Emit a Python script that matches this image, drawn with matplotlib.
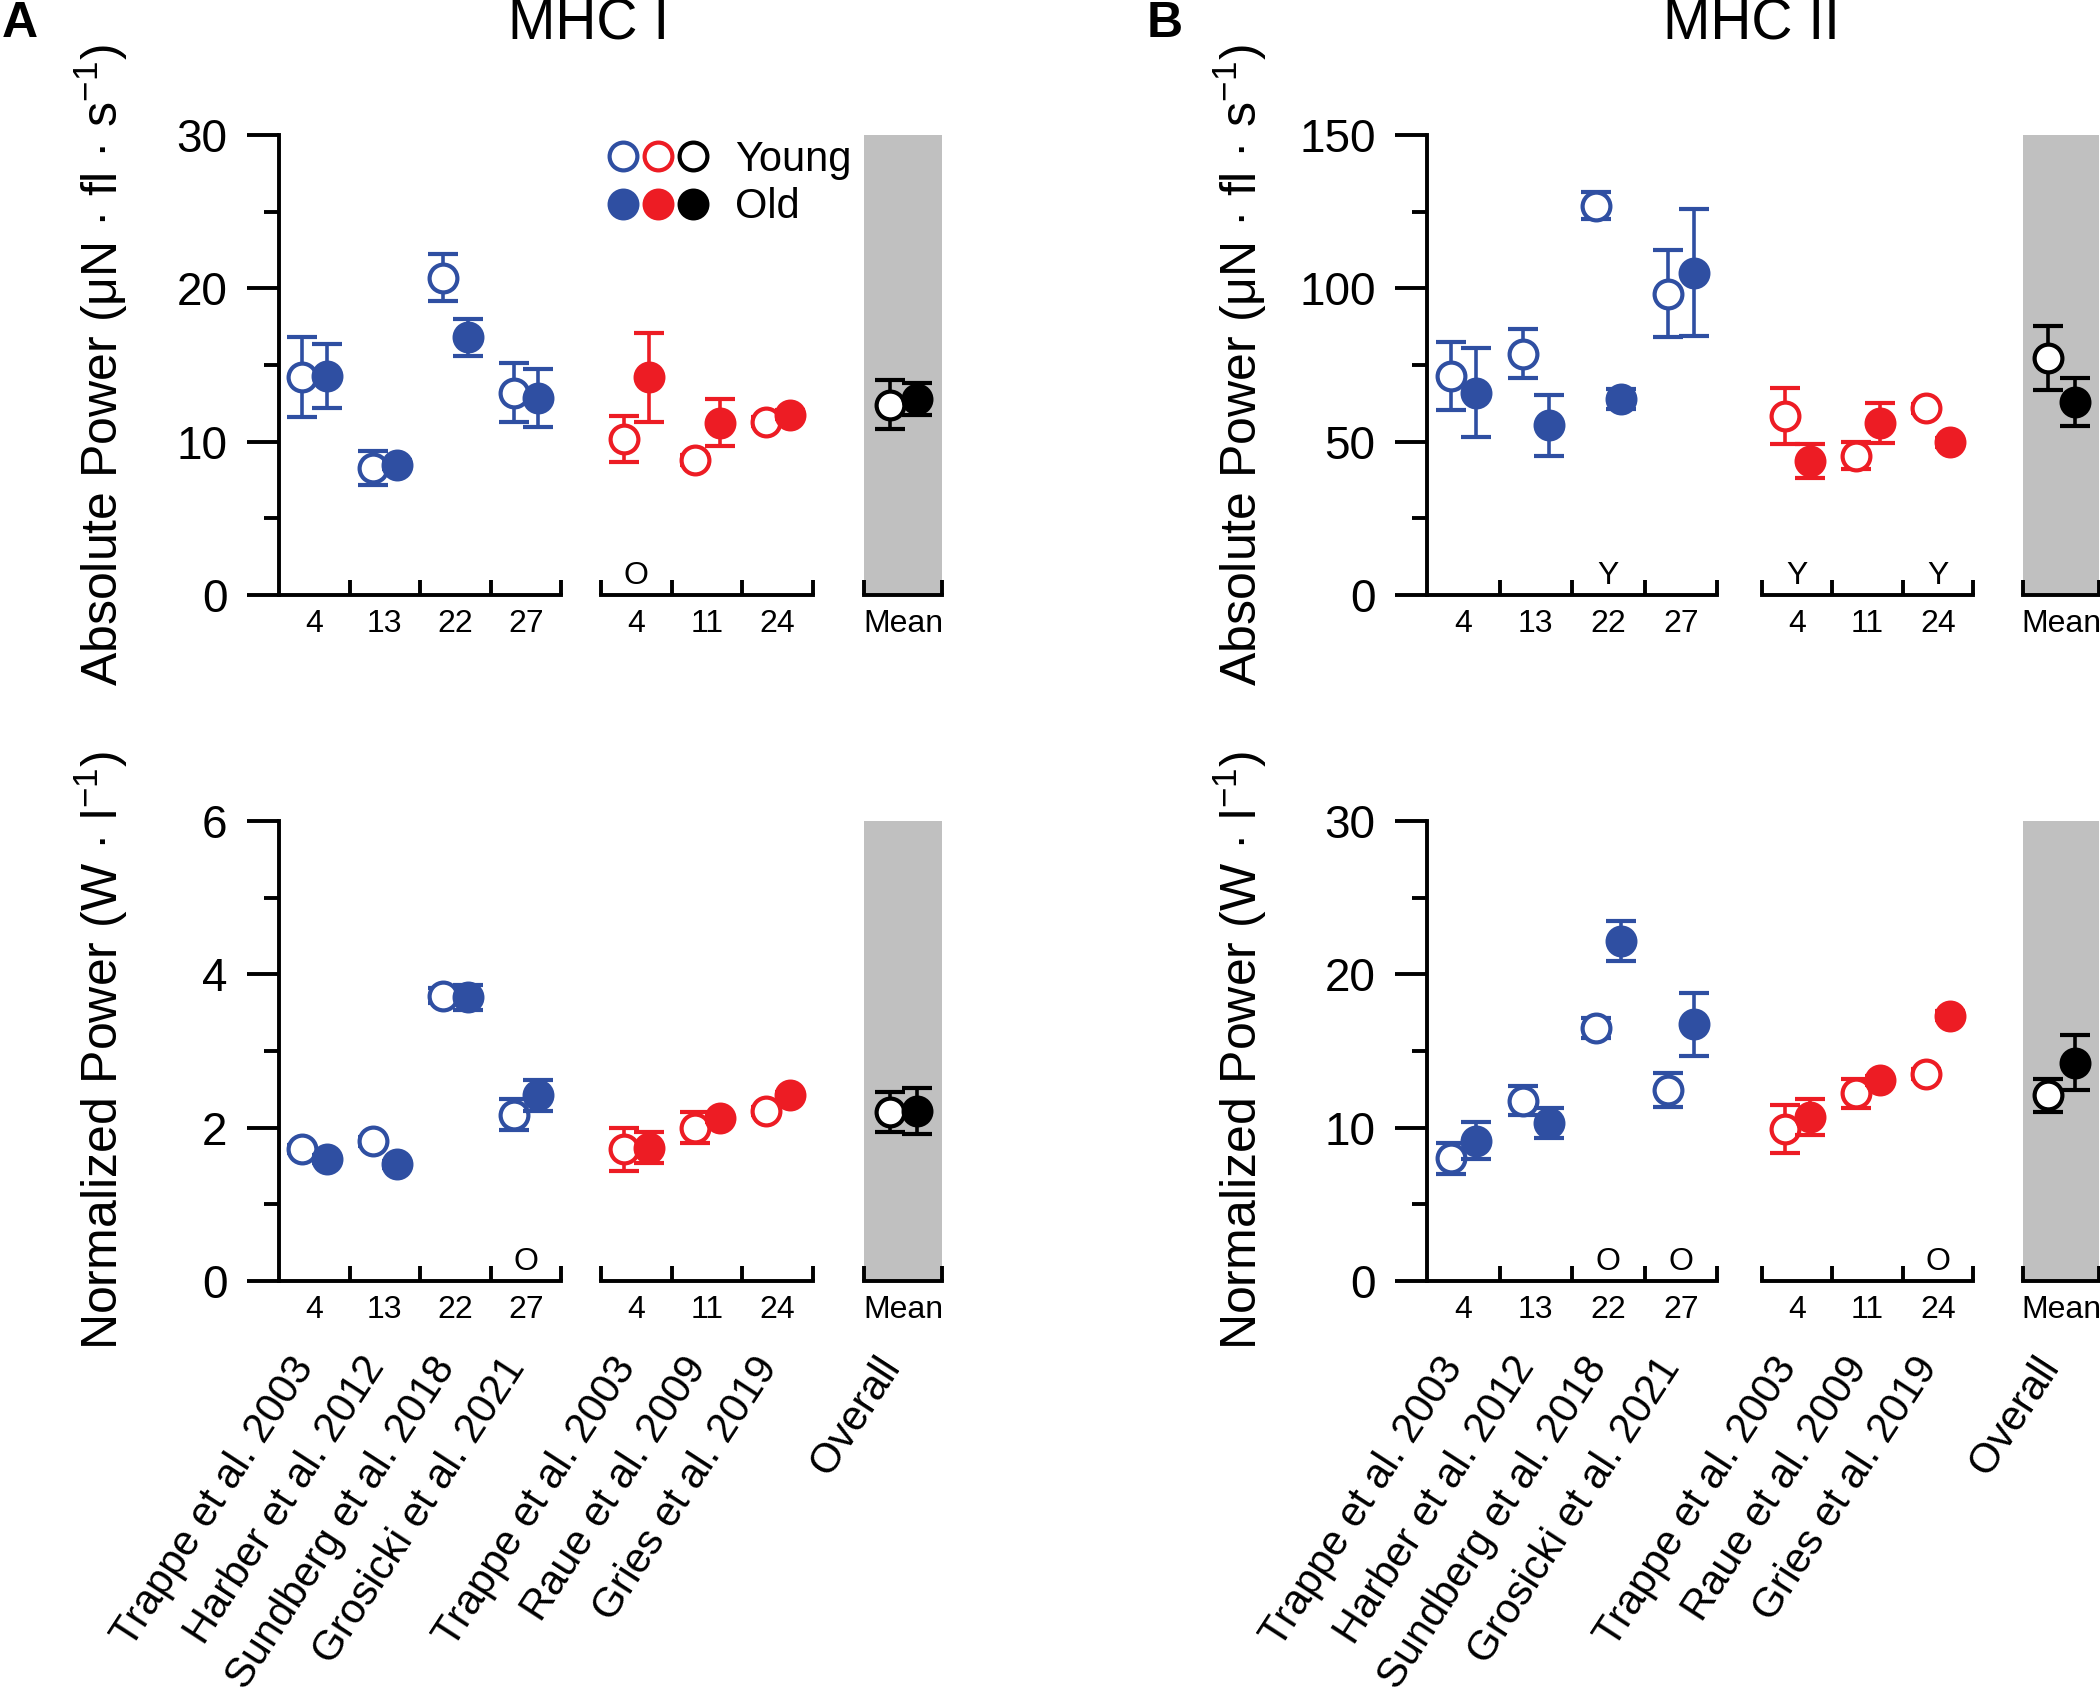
import numpy as np
import matplotlib
matplotlib.use('Agg')
import matplotlib.pyplot as plt
from matplotlib.lines import Line2D
from matplotlib.legend_handler import HandlerTuple

plt.rcParams['font.family'] = ['Liberation Sans', 'DejaVu Sans']
plt.rcParams['mathtext.fontset'] = 'custom'
plt.rcParams['mathtext.rm'] = 'Liberation Sans'
plt.rcParams['mathtext.default'] = 'regular'

BLUE = '#2f4fa2'
RED = '#ed1c24'
GRAY = '#c0c0c0'

# studies: 4 blue, 3 red, then overall mean
study_names = ['Trappe et al. 2003', 'Harber et al. 2012', 'Sundberg et al. 2018',
               'Grosicki et al. 2021', 'Trappe et al. 2003', 'Raue et al. 2009',
               'Gries et al. 2019', 'Overall']
n_labels = ['4', '13', '22', '27', '4', '11', '24', 'Mean']

# MHC I absolute power
mhc1_abs_young = [14.2, 8.3, 20.7, 13.2, 10.2, 8.8, 11.3, 12.4]
mhc1_abs_young_err = [2.6, 1.1, 1.55, 1.9, 1.5, 0.3, 0.3, 1.6]
mhc1_abs_old = [14.3, 8.5, 16.8, 12.85, 14.2, 11.25, 11.75, 12.8]
mhc1_abs_old_err = [2.1, 0.3, 1.2, 1.9, 2.9, 1.55, 0.3, 1.05]
mhc1_abs_notes = [(4, 'O')]

# MHC II absolute power
mhc2_abs_young = [71.4, 78.6, 127, 98.3, 58.5, 45.4, 60.9, 77.2]
mhc2_abs_young_err = [11, 8, 4.5, 14.3, 9.1, 4.4, 1.5, 10.5]
mhc2_abs_old = [66, 55.3, 63.8, 105.1, 43.7, 56, 49.8, 62.9]
mhc2_abs_old_err = [14.4, 9.9, 3.3, 20.7, 5.7, 6.5, 1.5, 7.7]
mhc2_abs_notes = [(2, 'Y'), (4, 'Y'), (6, 'Y')]

# MHC I normalized power
mhc1_norm_young = [1.72, 1.82, 3.72, 2.17, 1.72, 2.0, 2.22, 2.2]
mhc1_norm_young_err = [0.05, 0.06, 0.1, 0.2, 0.28, 0.2, 0.05, 0.26]
mhc1_norm_old = [1.59, 1.52, 3.7, 2.42, 1.74, 2.12, 2.42, 2.22]
mhc1_norm_old_err = [0.05, 0.05, 0.16, 0.2, 0.2, 0.05, 0.05, 0.3]
mhc1_norm_notes = [(3, 'O')]

# MHC II normalized power
mhc2_norm_young = [8.0, 11.75, 16.5, 12.45, 9.9, 12.25, 13.5, 12.1]
mhc2_norm_young_err = [1.0, 0.95, 0.65, 1.1, 1.55, 0.95, 0.3, 1.1]
mhc2_norm_old = [9.15, 10.3, 22.2, 16.75, 10.7, 13.1, 17.3, 14.25]
mhc2_norm_old_err = [1.2, 1.0, 1.3, 2.05, 1.15, 0.3, 0.3, 1.8]
mhc2_norm_notes = [(2, 'O'), (3, 'O'), (6, 'O')]

groups = [(0, 4, BLUE), (4, 7, RED), (7, 8, 'black')]

W, H = 2100, 1697
fig = plt.figure(figsize=(21, 16.97), dpi=100)


def make_axes(spans, top, bottom):
    return [fig.add_axes([l / W, 1 - bottom / H, (r - l) / W, (bottom - top) / H])
            for l, r in spans]


def draw_panel(axs, young, young_err, old, old_err, ymax, ystep, ylabel, label_x,
               notes, show_names):
    for k, (ax, (a, b, col)) in enumerate(zip(axs, groups)):
        n = b - a
        xs = np.arange(n)
        ax.set_xlim(-0.5, n - 0.5)
        ax.set_ylim(0, ymax)
        kw = dict(fmt='o', ms=20, mew=3, color=col, mec=col, elinewidth=2.6,
                  capsize=11, capthick=2.8, clip_on=False)
        ax.errorbar(xs - 0.17, young[a:b], yerr=young_err[a:b], mfc='white', zorder=3, **kw)
        ax.errorbar(xs + 0.18, old[a:b], yerr=old_err[a:b], mfc=col, zorder=4, **kw)

        ax.spines['top'].set_visible(False)
        ax.spines['right'].set_visible(False)
        ax.spines['bottom'].set_linewidth(2.8)
        ticks = np.arange(n + 1) - 0.5
        if k == 0:
            ticks = ticks[1:]
        ax.set_xticks(ticks)
        ax.set_xticks(xs, labels=n_labels[a:b], minor=True)
        ax.tick_params(axis='x', which='major', direction='in', length=11, width=2.8,
                       labelbottom=False)
        ax.tick_params(axis='x', which='minor', length=0, pad=10, labelsize=23)

        if k == 0:
            ax.spines['left'].set_linewidth(2.8)
            ax.set_yticks(np.arange(0, ymax + 1, ystep))
            ax.set_yticks(np.arange(ystep / 2, ymax, ystep), minor=True)
            ax.tick_params(axis='y', which='major', length=23, width=2.8, pad=14,
                           labelsize=33)
            ax.tick_params(axis='y', which='minor', length=11, width=2.8)
            ax.set_ylabel(ylabel, fontsize=36)
            ax.yaxis.set_label_coords(label_x, 0.5)
        else:
            ax.spines['left'].set_visible(False)
            ax.tick_params(axis='y', which='both', left=False, labelleft=False)
        if k == 2:
            ax.set_facecolor(GRAY)

        for idx, txt in notes:
            if a <= idx < b:
                ax.text(idx - a, 0.008, txt, transform=ax.get_xaxis_transform(),
                        ha='center', va='bottom', fontsize=23)
        if show_names:
            for i in range(n):
                ax.text(i - 0.36, -0.15, study_names[a + i],
                        transform=ax.get_xaxis_transform(), rotation=57,
                        rotation_mode='anchor', ha='right', va='top', fontsize=30)


spans_a = [(279, 561), (601, 813), (864, 942)]
spans_b = [(1427, 1717), (1762, 1973), (2023, 2099)]

abs_label = r'Absolute Power (μN · fl · s$^{-1}$)'
norm_label = r'Normalized Power (W · l$^{-1}$)'

ax_a1 = make_axes(spans_a, 135, 595)
draw_panel(ax_a1, mhc1_abs_young, mhc1_abs_young_err, mhc1_abs_old, mhc1_abs_old_err,
           30, 10, abs_label, -0.53, mhc1_abs_notes, False)
ax_b1 = make_axes(spans_b, 135, 595)
draw_panel(ax_b1, mhc2_abs_young, mhc2_abs_young_err, mhc2_abs_old, mhc2_abs_old_err,
           150, 50, abs_label, -0.545, mhc2_abs_notes, False)
ax_a2 = make_axes(spans_a, 821, 1281)
draw_panel(ax_a2, mhc1_norm_young, mhc1_norm_young_err, mhc1_norm_old, mhc1_norm_old_err,
           6, 2, norm_label, -0.53, mhc1_norm_notes, True)
ax_b2 = make_axes(spans_b, 821, 1281)
draw_panel(ax_b2, mhc2_norm_young, mhc2_norm_young_err, mhc2_norm_old, mhc2_norm_old_err,
           30, 10, norm_label, -0.545, mhc2_norm_notes, True)

# titles and panel letters
fig.text(589 / W, 1 - 24 / H, 'MHC I', ha='center', va='center', fontsize=41)
fig.text(1751 / W, 1 - 24 / H, 'MHC II', ha='center', va='center', fontsize=41)
fig.text(20 / W, 1 - 24 / H, 'A', ha='center', va='center', fontsize=36, fontweight='bold')
fig.text(1165 / W, 1 - 24 / H, 'B', ha='center', va='center', fontsize=36, fontweight='bold')

# legend
young_h = tuple(Line2D([], [], marker='o', ls='none', ms=20, mew=3, mfc='white', mec=c)
                for c in [BLUE, RED, 'black'])
old_h = tuple(Line2D([], [], marker='o', ls='none', ms=20, mew=3, mfc=c, mec=c)
              for c in [BLUE, RED, 'black'])
fig.legend([young_h, old_h], ['Young', 'Old'],
           handler_map={tuple: HandlerTuple(ndivide=None, pad=0.0)},
           loc='upper left', bbox_to_anchor=(606 / W, 1 - 140 / H),
           bbox_transform=fig.transFigure, frameon=False, fontsize=30,
           handlelength=2.5, handletextpad=0.6, labelspacing=0.18,
           borderpad=0, borderaxespad=0)

fig.savefig('out.png', dpi=100)
